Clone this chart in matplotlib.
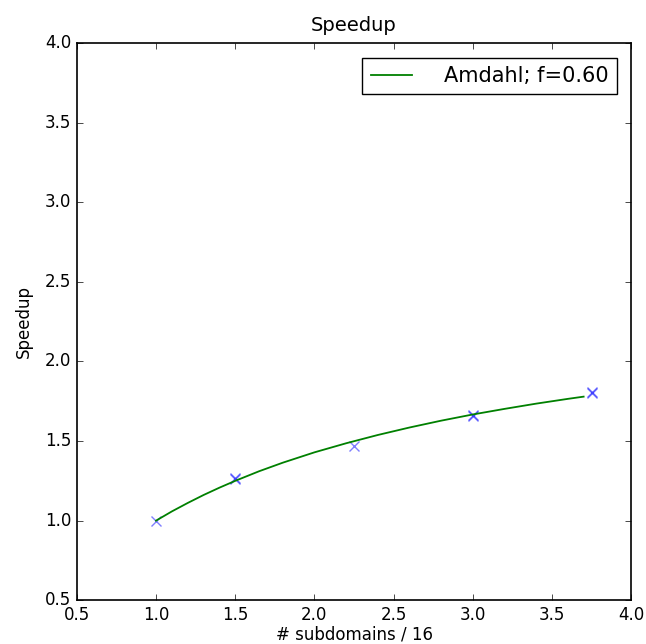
import numpy as np
import matplotlib
matplotlib.use('Agg')
import matplotlib.pyplot as plt

plt.style.use('classic')

### Mesures (plusieurs runs par point)
n_sub = [1.0, 1.5, 1.5, 2.25, 3.0, 3.0, 3.75, 3.75]
speedup = [1.00, 1.26, 1.27, 1.47, 1.66, 1.665, 1.80, 1.81]

### Courbe Amdahl
x_amdahl = [1.0, 1.1, 1.2, 1.3, 1.4, 1.5, 1.65, 1.8, 2.0, 2.2, 2.4, 2.6,
            2.8, 3.0, 3.2, 3.4, 3.6, 3.7]
y_amdahl = [1.00, 1.058, 1.111, 1.161, 1.207, 1.250, 1.310, 1.364, 1.429,
            1.486, 1.538, 1.585, 1.628, 1.667, 1.702, 1.735, 1.765, 1.779]
label_amdahl = 'Amdahl; f=0.60'

fig = plt.figure(figsize=(6.46, 6.44), dpi=100, facecolor='white')
ax = fig.add_axes([0.119, 0.068, 0.858, 0.865])

ax.plot(n_sub, speedup, 'x', color='b', alpha=0.5, markersize=7, mew=1)
ax.plot(x_amdahl, y_amdahl, '-', color='g', lw=1.3, label=label_amdahl)

ax.set_xlim(0.5, 4.0)
ax.set_ylim(0.5, 4.0)
ax.set_xticks(np.arange(0.5, 4.01, 0.5))
ax.set_yticks(np.arange(0.5, 4.01, 0.5))
ax.tick_params(labelsize=12)
for s in ax.spines.values():
    s.set_linewidth(1.2)
ax.set_xlabel('# subdomains / 16', fontsize=12, labelpad=1)
ax.set_ylabel('Speedup', fontsize=12, labelpad=9)
ax.set_title('Speedup', fontsize=14, pad=9)
ax.legend(loc='upper right', fontsize=15, numpoints=1, handletextpad=1.5,
          borderaxespad=0.7)

fig.savefig('out.png', dpi=100, facecolor='white')
